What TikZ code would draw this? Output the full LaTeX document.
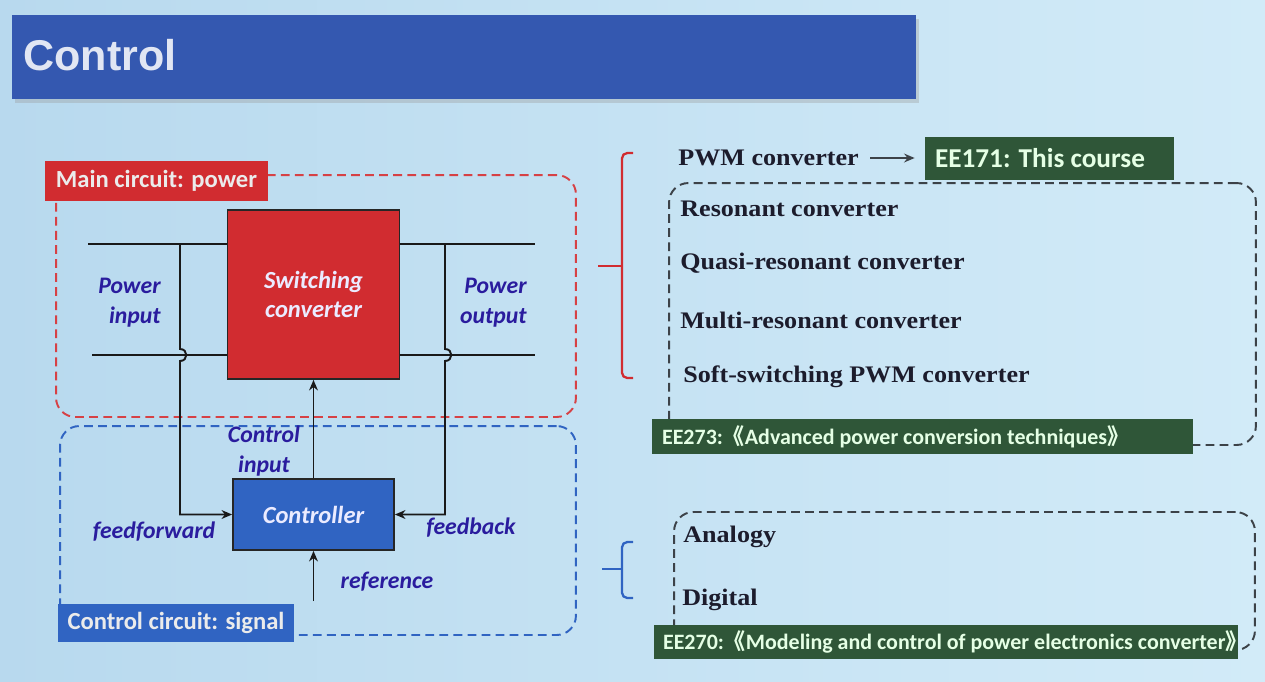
\documentclass[tikz,border=0pt]{standalone}
\usepackage{fontspec}
\setmainfont{Liberation Serif}
\newfontfamily\slideserif{Liberation Serif}[FakeStretch=1.1]
\newfontfamily\calibri{Carlito}
\newfontfamily\arialbd{Liberation Sans}
\newfontfamily\cjk{Noto Sans CJK SC}
\usetikzlibrary{arrows.meta}

\definecolor{bgleft}{HTML}{B8D9EE}
\definecolor{bgright}{HTML}{D2EBF8}
\definecolor{titleblue}{HTML}{3458B0}
\definecolor{powerred}{HTML}{D12C30}
\definecolor{signalblue}{HTML}{3064C2}
\definecolor{labelink}{HTML}{2A1C9E}
\definecolor{coursegreen}{HTML}{2F5638}
\definecolor{dashgray}{HTML}{3C4248}
\definecolor{itemink}{HTML}{1C1C2C}

\newcommand{\bko}{{\cjk 《}}
\newcommand{\bkc}{{\cjk 》}}

\begin{document}
\begin{tikzpicture}[
  x=0.02cm, y=-0.02cm,
  every node/.style={inner sep=0pt},
  wire/.style={line width=1.1pt, black!90},
  arrow/.style={wire, -{Stealth[length=6pt,width=5pt]}},
  block/.style={draw=black!85, line width=1pt, align=center,
    font=\calibri\bfseries\itshape\fontsize{14}{17}\selectfont, text=white!92!blue},
  tag/.style={font=\calibri\bfseries\fontsize{14}{16}\selectfont, text=white!92!black},
  sig/.style={font=\calibri\bfseries\itshape\fontsize{13.5}{17}\selectfont, text=labelink},
  region/.style={dash pattern=on 5pt off 3pt, line width=1.1pt, rounded corners=11pt},
  course/.style={fill=coursegreen, inner xsep=0.2cm,
    font=\calibri\bfseries\fontsize{12.5}{15}\selectfont, text=white!90!green},
  item/.style={anchor=west, font=\slideserif\bfseries\fontsize{13.5}{16}\selectfont, text=itemink},
  brace/.style={line width=1.3pt, rounded corners=3pt}
]
\useasboundingbox (0,0) rectangle (1265,681);
\shade[left color=bgleft, right color=bgright] (0,0) rectangle (1265,681);

% title bar
\fill[black!40, opacity=.35] (15,19) rectangle (919,103);
\node[fill=titleblue, minimum width=18.08cm, minimum height=1.68cm] (title) at (464,57) {};
\node[anchor=west, font=\arialbd\bfseries\fontsize{24.5}{28}\selectfont, text=white!85!titleblue] (titletext) at (23,55) {Control};

% power / signal regions
\node[region, draw=powerred!90, minimum width=10.4cm, minimum height=4.84cm] (mainreg) at (316,296) {};
\node[region, draw=signalblue, minimum width=10.32cm, minimum height=4.18cm] (ctrlreg) at (318,530.5) {};
\node[tag, fill=powerred, minimum width=4.46cm, minimum height=0.8cm] (maintag) at (156.5,180.5) {Main circuit: power};
\node[tag, fill=signalblue, minimum width=4.72cm, minimum height=0.76cm] (ctrltag) at (176,623) {Control circuit: signal};

% blocks
\node[block, fill=powerred, minimum width=3.44cm, minimum height=3.38cm] (conv) at (313.5,294.5) {Switching\\converter};
\node[block, fill=signalblue, minimum width=3.22cm, minimum height=1.42cm] (ctrl) at (313.5,514.5) {Controller};

% power lines
\coordinate (inA) at (88,244);
\coordinate (inB) at (92,355);
\coordinate (outA) at (535,244);
\coordinate (outB) at (535,355);
\draw[wire] (inA) -- (inA -| conv.west);
\draw[wire] (inB) -- (inB -| conv.west);
\draw[wire] (conv.east |- outA) -- (outA);
\draw[wire] (conv.east |- outB) -- (outB);

% feedforward / feedback / control
\coordinate (ffTap) at (180,244);
\coordinate (fbTap) at (445,244);
\coordinate (refSrc) at (313.5,601);
\draw[arrow] (ffTap) -- ++(0,105) to[out=0,in=0,looseness=1.8] ++(0,12) |- (ctrl.west);
\draw[arrow] (fbTap) -- ++(0,105) to[out=0,in=0,looseness=1.8] ++(0,12) |- (ctrl.east);
\draw[arrow] (ctrl.north) -- (conv.south);
\draw[arrow] (refSrc) -- (ctrl.south);

% labels
\node[sig, align=right, anchor=east] (pin) at (161,303) {Power\\input};
\node[sig, align=right, anchor=east] (pout) at (527,303) {Power\\output};
\node[sig, align=center] (cin) at (264,451) {Control\\input};
\node[sig] (ff) at (154,532) {feedforward};
\node[sig] (fb) at (471,528) {feedback};
\node[sig] (refl) at (387,582) {reference};

% converter types
\draw[brace, draw=powerred] (633,153) -- (622,153) -- (622,378) -- (633,378);
\draw[brace, draw=powerred] (598,266) -- (622,266);
\node[item] (pwm) at (678,158) {PWM converter};
\node[course, font=\calibri\bfseries\fontsize{15.5}{18}\selectfont, minimum height=0.86cm] (ee171) at (1049.5,158.5)
  {\makebox[4.58cm][l]{EE171: This course}};
\draw[-{Stealth[length=6pt,width=5pt]}, line width=1.1pt, draw=dashgray, shorten <=0.22cm, shorten >=0.2cm]
  (pwm.east) -- (ee171.west |- pwm.east);
\node[region, draw=dashgray, minimum width=11.74cm, minimum height=5.24cm] (softreg) at (962.5,314) {};
\node[item] (res) at (680,209) {Resonant converter};
\node[item] (quasi) at (680,263) {Quasi-resonant converter};
\node[item] (multi) at (680,320) {Multi-resonant converter};
\node[item] (soft) at (683,377) {Soft-switching PWM converter};
\node[course, minimum height=0.7cm] (ee273) at (922.5,436.5)
  {\makebox[10.42cm][l]{EE273:\bko Advanced power conversion techniques\bkc}};

% control types
\draw[brace, draw=signalblue] (633,542) -- (622,542) -- (622,598) -- (633,598);
\draw[brace, draw=signalblue] (602,569) -- (622,569);
\node[region, draw=dashgray, minimum width=11.62cm, minimum height=2.76cm] (ctrltypes) at (964.5,581) {};
\node[item] (ana) at (683,537) {Analogy};
\node[item] (dig) at (682,600) {Digital};
\node[course, inner xsep=0.18cm, minimum height=0.68cm] (ee270) at (946,642)
  {\makebox[11.32cm][l]{EE270:\bko Modeling and control of power electronics converter\bkc}};
\end{tikzpicture}
\end{document}
